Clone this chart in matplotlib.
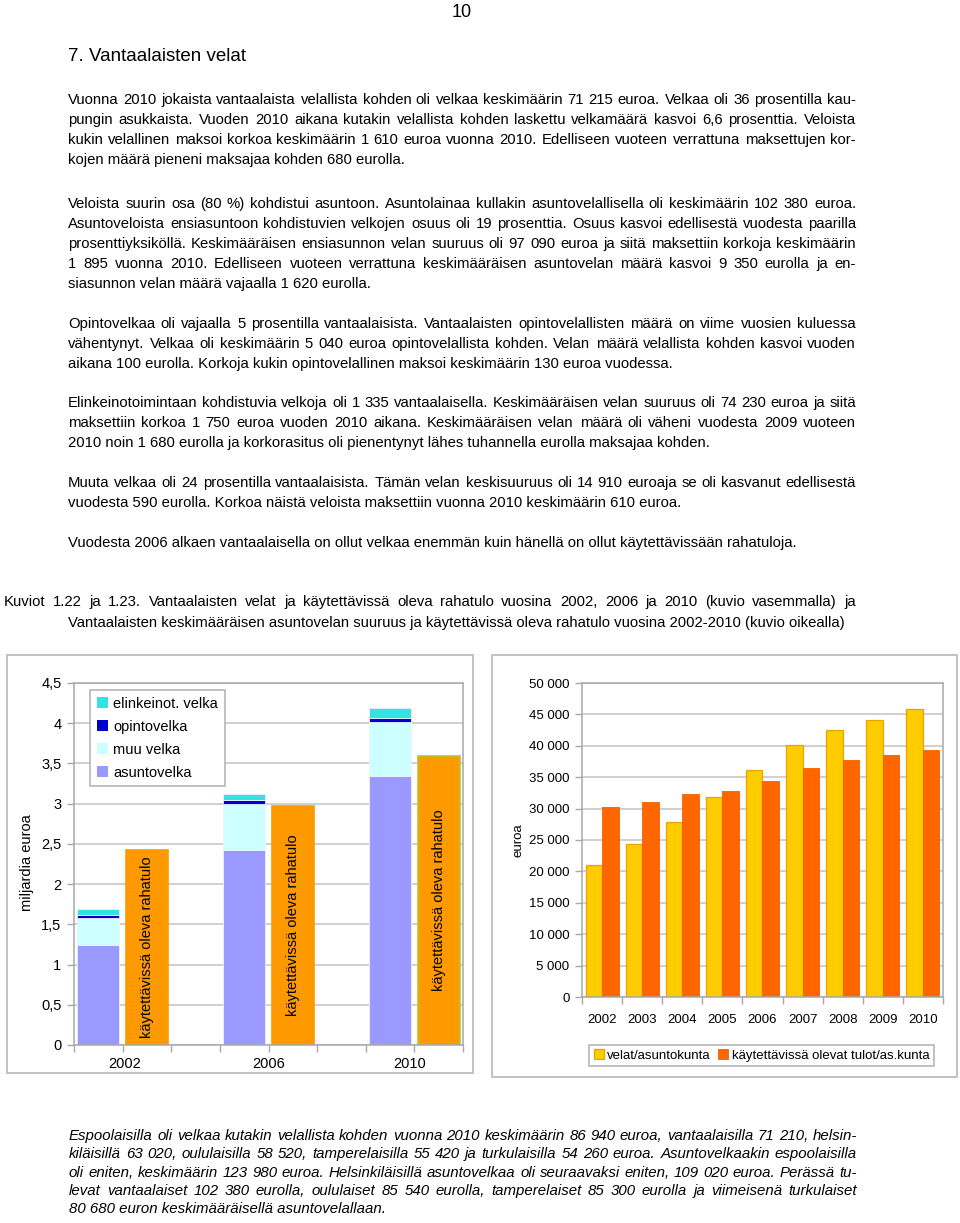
import matplotlib
matplotlib.use("Agg")
import matplotlib.pyplot as plt
from matplotlib.patches import Rectangle, Patch
from matplotlib.font_manager import FontProperties
import numpy as np

plt.rcParams['font.family'] = ['Liberation Sans', 'DejaVu Sans']

# ---------------- data: left chart (miljardia euroa) ----------------
years_left = ['2002', '2006', '2010']
asuntovelka = [1.24, 2.42, 3.34]
muu_velka = [0.34, 0.58, 0.68]
opintovelka = [0.03, 0.045, 0.04]
elinkeinot_velka = [0.08, 0.075, 0.13]
rahatulo = [2.42, 2.97, 3.59]
left_yticks = [0, 0.5, 1, 1.5, 2, 2.5, 3, 3.5, 4, 4.5]
left_yticklabels = ['0', '0,5', '1', '1,5', '2', '2,5', '3', '3,5', '4', '4,5']

# ---------------- data: right chart (euroa) ----------------
years_right = ['2002', '2003', '2004', '2005', '2006', '2007', '2008', '2009', '2010']
velat_asuntokunta = [21000, 24300, 27800, 31900, 36100, 40100, 42450, 44150, 45850]
tulot_asuntokunta = [30200, 31050, 32300, 32800, 34400, 36400, 37800, 38550, 39400]
right_yticks = [0, 5000, 10000, 15000, 20000, 25000, 30000, 35000, 40000, 45000, 50000]
right_yticklabels = ['0', '5 000', '10 000', '15 000', '20 000', '25 000', '30 000',
                     '35 000', '40 000', '45 000', '50 000']

W, H = 960, 1223
fig = plt.figure(figsize=(W / 100, H / 100), dpi=100)
renderer = fig.canvas.get_renderer()


def fx(x):
    return x / W


def fy(y):
    return 1 - y / H


def line(text, y, x0=68, x1=856, justify=False, size=10.7, style='normal'):
    fp = FontProperties(family=['Liberation Sans'], size=size, style=style)
    if not justify:
        fig.text(fx(x0), fy(y), text, fontproperties=fp, ha='left', va='baseline')
        return
    words = text.split(' ')
    widths = [renderer.get_text_width_height_descent(w, fp, ismath=False)[0] for w in words]
    gap = (x1 - x0 - sum(widths)) / (len(words) - 1)
    x = x0
    for w, wd in zip(words, widths):
        fig.text(fx(x), fy(y), w, fontproperties=fp, ha='left', va='baseline')
        x += wd + gap


# page number and heading
fig.text(fx(462), fy(17), '10', fontsize=13, ha='center', va='baseline')
fig.text(fx(68), fy(61), '7. Vantaalaisten velat', fontsize=13.5, ha='left', va='baseline')

para1 = [
    ("Vuonna 2010 jokaista vantaalaista velallista kohden oli velkaa keskimäärin 71 215 euroa. Velkaa oli 36 prosentilla kau-", True),
    ("pungin asukkaista. Vuoden 2010 aikana kutakin velallista kohden laskettu velkamäärä kasvoi 6,6 prosenttia. Veloista", True),
    ("kukin velallinen maksoi korkoa keskimäärin 1 610 euroa vuonna 2010. Edelliseen vuoteen verrattuna maksettujen kor-", True),
    ("kojen määrä pieneni maksajaa kohden 680 eurolla.", False),
]
para2 = [
    ("Veloista suurin osa (80 %) kohdistui asuntoon. Asuntolainaa kullakin asuntovelallisella oli keskimäärin 102 380 euroa.", True),
    ("Asuntoveloista ensiasuntoon kohdistuvien velkojen osuus oli 19 prosenttia. Osuus kasvoi edellisestä vuodesta paarilla", True),
    ("prosenttiyksiköllä. Keskimääräisen ensiasunnon velan suuruus oli 97 090 euroa ja siitä maksettiin korkoja keskimäärin", True),
    ("1 895 vuonna 2010. Edelliseen vuoteen verrattuna keskimääräisen asuntovelan määrä kasvoi 9 350 eurolla ja en-", True),
    ("siasunnon velan määrä vajaalla 1 620 eurolla.", False),
]
para3 = [
    ("Opintovelkaa oli vajaalla 5 prosentilla vantaalaisista. Vantaalaisten opintovelallisten määrä on viime vuosien kuluessa", True),
    ("vähentynyt. Velkaa oli keskimäärin 5 040 euroa opintovelallista kohden. Velan määrä velallista kohden kasvoi vuoden", True),
    ("aikana 100 eurolla. Korkoja kukin opintovelallinen maksoi keskimäärin 130 euroa vuodessa.", False),
]
para4 = [
    ("Elinkeinotoimintaan kohdistuvia velkoja oli 1 335 vantaalaisella. Keskimääräisen velan suuruus oli 74 230 euroa ja siitä", True),
    ("maksettiin korkoa 1 750 euroa vuoden 2010 aikana. Keskimääräisen velan määrä oli väheni vuodesta 2009 vuoteen", True),
    ("2010 noin 1 680 eurolla ja korkorasitus oli pienentynyt lähes tuhannella eurolla maksajaa kohden.", False),
]
para5 = [
    ("Muuta velkaa oli 24 prosentilla vantaalaisista. Tämän velan keskisuuruus oli 14 910 euroaja se oli kasvanut edellisestä", True),
    ("vuodesta 590 eurolla. Korkoa näistä veloista maksettiin vuonna 2010 keskimäärin 610 euroa.", False),
]
para6 = [
    ("Vuodesta 2006 alkaen vantaalaisella on ollut velkaa enemmän kuin hänellä on ollut käytettävissään rahatuloja.", False),
]

for para, y0 in [(para1, 104), (para2, 208), (para3, 328), (para4, 407), (para5, 487), (para6, 547)]:
    for i, (t, j) in enumerate(para):
        line(t, y0 + 20 * i, justify=j)

line("Kuviot 1.22 ja 1.23. Vantaalaisten velat ja käytettävissä oleva rahatulo vuosina 2002, 2006 ja 2010 (kuvio vasemmalla) ja",
     606, x0=4, justify=True)
line("Vantaalaisten keskimääräisen asuntovelan suuruus ja käytettävissä oleva rahatulo vuosina 2002-2010 (kuvio oikealla)", 627)

italic = [
    ("Espoolaisilla oli velkaa kutakin velallista kohden vuonna 2010 keskimäärin 86 940 euroa, vantaalaisilla 71 210, helsin-", True),
    ("kiläisillä 63 020, oululaisilla 58 520, tamperelaisilla 55 420 ja turkulaisilla 54 260 euroa. Asuntovelkaakin espoolaisilla", True),
    ("oli eniten, keskimäärin 123 980 euroa. Helsinkiläisillä asuntovelkaa oli seuraavaksi eniten, 109 020 euroa. Perässä tu-", True),
    ("levat vantaalaiset 102 380 eurolla, oululaiset 85 540 eurolla, tamperelaiset 85 300 eurolla ja viimeisenä turkulaiset", True),
    ("80 680 euron keskimääräisellä asuntovelallaan.", False),
]
for i, (t, j) in enumerate(italic):
    line(t, 1140 + 18.3 * i, x0=69, x1=857, justify=j, size=10.8, style='italic')

# chart frames
frame_c = '#bdbdbd'
fig.add_artist(Rectangle((fx(7), fy(1073)), (473 - 7) / W, (1073 - 655) / H,
                         transform=fig.transFigure, fill=False, ec=frame_c, lw=1.3))
fig.add_artist(Rectangle((fx(492), fy(1077)), (957 - 492) / W, (1077 - 655) / H,
                         transform=fig.transFigure, fill=False, ec=frame_c, lw=1.3))

grid_c = '#c4c4c4'
spine_c = '#a8a8a8'

# ---------------- left chart ----------------
ax1 = fig.add_axes([fx(74), fy(1045), (463 - 74) / W, (1045 - 683) / H])
debt_x = np.array([0.5, 3.5, 6.5])
inc_x = np.array([1.5, 4.5, 7.5])
bw = 0.86
c_asunto, c_muu, c_opinto, c_elink, c_tulo = '#9999ff', '#ccffff', '#0000cc', '#33e3e3', '#ff9900'
b = np.zeros(3)
for vals, col in [(asuntovelka, c_asunto), (muu_velka, c_muu), (opintovelka, c_opinto), (elinkeinot_velka, c_elink)]:
    ax1.bar(debt_x, vals, bw, bottom=b, color=col, edgecolor='#eef0ff', linewidth=0.6, zorder=2)
    b = b + np.array(vals)
ax1.bar(inc_x, rahatulo, bw, color=c_tulo, edgecolor=[c_tulo, c_tulo, '#bcc42a'], linewidth=1.2, zorder=2)
for xv, h in zip(inc_x, rahatulo):
    ax1.text(xv, h / 2, 'käytettävissä oleva rahatulo', rotation=90, ha='center', va='center',
             fontsize=10.5, zorder=3)
ax1.set_xlim(0, 8)
ax1.set_ylim(0, 4.5)
ax1.set_yticks(left_yticks)
ax1.set_yticklabels(left_yticklabels, fontsize=10.5)
ax1.xaxis.remove_overlapping_locs = False
ax1.set_xticks(np.arange(0, 9))
ax1.set_xticklabels([])
ax1.set_xticks([1.05, 4.0, 6.9], years_left, minor=True, fontsize=10.5)
ax1.tick_params(axis='x', which='minor', length=0, pad=9)
ax1.tick_params(axis='both', which='major', length=5, color=spine_c, width=1)
ax1.tick_params(axis='y', pad=4)
ax1.yaxis.grid(True, color=grid_c, lw=1.1, zorder=0)
ax1.set_axisbelow(True)
for s in ax1.spines.values():
    s.set_color(spine_c)
    s.set_linewidth(1.1)
fig.text(fx(27), fy(863), 'miljardia euroa', rotation=90, ha='center', va='center', fontsize=10.5)

handles = [Patch(facecolor=c_elink, edgecolor='none'), Patch(facecolor=c_opinto, edgecolor='none'),
           Patch(facecolor=c_muu, edgecolor='none'), Patch(facecolor=c_asunto, edgecolor='none')]
labels = ['elinkeinot. velka', 'opintovelka', 'muu velka', 'asuntovelka']
leg1 = ax1.legend(handles, labels, loc='upper left', bbox_to_anchor=(fx(90), fy(690)),
                  bbox_transform=fig.transFigure, fontsize=10.5, frameon=True, fancybox=False,
                  edgecolor='#b0b0b0', framealpha=1, handlelength=0.75, handleheight=0.75,
                  handletextpad=0.4, labelspacing=0.62, borderpad=0.45, borderaxespad=0)
leg1.get_frame().set_linewidth(1.1)

# ---------------- right chart ----------------
ax2 = fig.add_axes([fx(582), fy(997), (943 - 582) / W, (997 - 683) / H])
xr = np.arange(len(years_right))
w2 = 0.41
ax2.bar(xr - w2 / 2, velat_asuntokunta, w2, color='#ffcc00', edgecolor='#f0a000', linewidth=0.9,
        zorder=2, label='velat/asuntokunta')
ax2.bar(xr + w2 / 2, tulot_asuntokunta, w2, color='#ff6600', edgecolor='#f06000', linewidth=0.6,
        zorder=2, label='käytettävissä olevat tulot/as.kunta')
ax2.set_xlim(-0.5, len(years_right) - 0.5)
ax2.set_ylim(0, 50000)
ax2.set_yticks(right_yticks)
ax2.set_yticklabels(right_yticklabels, fontsize=9.5)
ax2.xaxis.remove_overlapping_locs = False
ax2.set_xticks(np.arange(-0.5, len(years_right)))
ax2.set_xticklabels([])
ax2.set_xticks(xr, years_right, minor=True, fontsize=9.5)
ax2.tick_params(axis='x', which='minor', length=0, pad=12)
ax2.tick_params(axis='both', which='major', length=5, color=spine_c, width=1)
ax2.tick_params(axis='y', pad=4)
ax2.yaxis.grid(True, color=grid_c, lw=1.1, zorder=0)
ax2.set_axisbelow(True)
for s in ax2.spines.values():
    s.set_color(spine_c)
    s.set_linewidth(1.1)
fig.text(fx(519), fy(840), 'euroa', rotation=90, ha='center', va='center', fontsize=9.5)
leg2 = ax2.legend(loc='center', bbox_to_anchor=(fx(761.5), fy(1055.5)), bbox_transform=fig.transFigure,
                  ncol=2, fontsize=9.5, frameon=True, fancybox=False, edgecolor='#b0b0b0', framealpha=1,
                  handlelength=0.75, handleheight=0.75, handletextpad=0.25, columnspacing=0.6,
                  borderpad=0.35, borderaxespad=0)
leg2.get_frame().set_linewidth(1.1)

fig.savefig('out.png', dpi=100)
